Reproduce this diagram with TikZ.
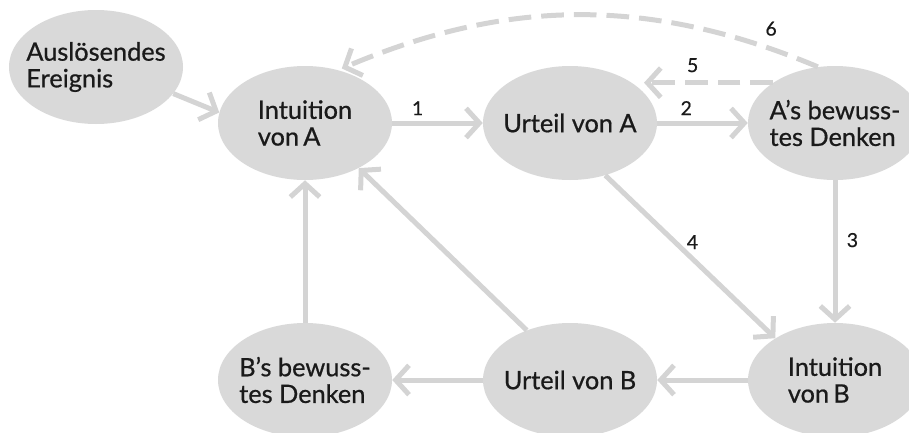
\documentclass[tikz,border=0pt]{standalone}
\usepackage{fontspec}
\setmainfont{Lato}[BoldFont={Lato}, BoldFeatures={FakeBold=0.7}]
\usetikzlibrary{arrows.meta,shapes.geometric}
\definecolor{bubble}{HTML}{D9D9D9}
\definecolor{wire}{HTML}{D4D4D4}
\definecolor{ink}{HTML}{1A1A1A}
\begin{document}
\begin{tikzpicture}[
            x=0.75pt, y=-0.75pt,
            state/.style = {shape=ellipse, fill=bubble, minimum width=130.5pt, minimum height=85.5pt, inner sep=0pt},
            says/.style = {text=ink, align=left, font=\fontsize{19}{20}\selectfont\bfseries},
            flow/.style = {draw=wire, line width=3.75pt, -{Straight Barb[length=10pt,width=22pt]}},
            back/.style = {flow, dash pattern=on 17pt off 7.5pt},
            num/.style = {text=ink, font=\fontsize{14.5}{16}\selectfont\bfseries, inner sep=1pt}
          ]
          \useasboundingbox (0,0) rectangle (909,432);
          \clip (0,0) rectangle (909,432);
          % top row
          \node[state, label={[says]center:{Auslösendes\\Ereignis}}] (ausl) at (96,67) {};
          \node[state, label={[says]center:{Intuition\\von\,A}}] (intA) at (305,123) {};
          \node[state, label={[says]center:{Urteil von A}}] (urtA) at (570,123) {};
          \node[state, label={[says]center:{A’s bewuss-\\tes Denken}}] (adb) at (835,123) {};
          % bottom row
          \node[state, label={[says]center:{B’s bewuss-\\tes Denken}}] (bdb) at (305,380) {};
          \node[state, label={[says]center:{Urteil von B}}] (urtB) at (570,380) {};
          \node[state, label={[says]center:{Intuition\\von\,B}}] (intB) at (835,380) {};

          \draw[flow] (ausl.-19) -- (intA.173);
          \draw[flow] (intA.east) -- node[num, pos=0.28, above=3pt] {1} (urtA.west);
          \draw[flow] (urtA.east) -- node[num, pos=0.32, above=3pt] {2} (adb.west);
          \draw[flow] (adb.south) -- node[num, pos=0.42, right=6pt] {3} (intB.north);
          \draw[flow] (urtA.-56) -- node[num, pos=0.41, right=6pt] {4} (intB.145);
          \draw[back, shorten >=9pt] (adb.147) -- node[num, pos=0.57, above=5pt] {5} (urtA.33);
          \draw[back, shorten >=3pt] (adb.107) .. controls +(-176,-74) and +(161,-68) .. node[num, pos=0.09, above=7pt] {6} (intA.58);
          \draw[flow] (intB.west) -- (urtB.east);
          \draw[flow] (urtB.west) -- (bdb.east);
          \draw[flow] (bdb.north) -- (intA.south);
          \draw[flow] (urtB.131) -- (intA.-40);
        \end{tikzpicture}
\end{document}
